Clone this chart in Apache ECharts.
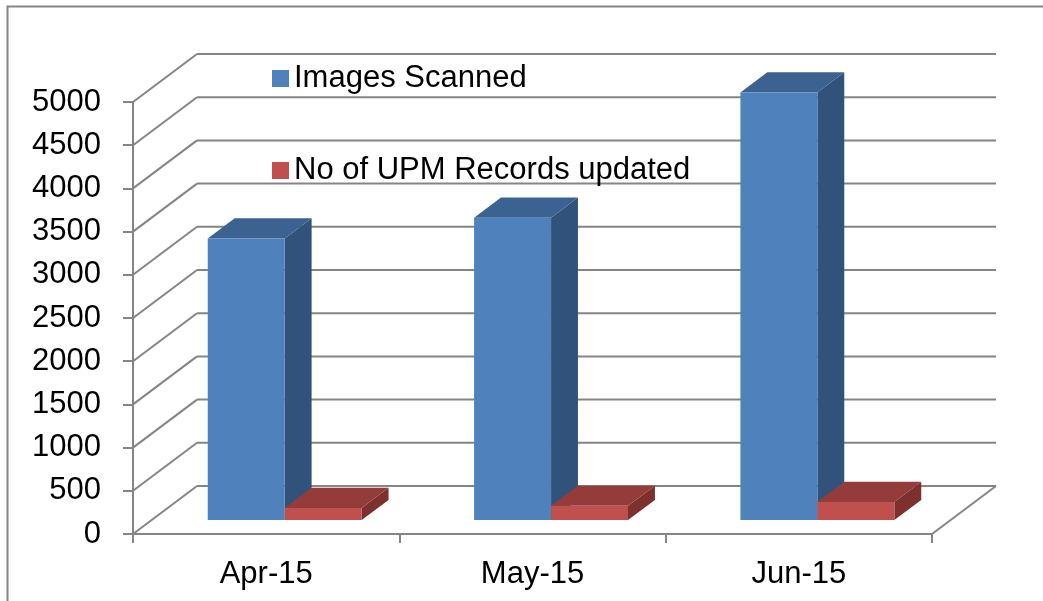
<!DOCTYPE html>
<html>
<head>
<meta charset="utf-8">
<script src="https://cdn.jsdelivr.net/npm/echarts@6/dist/echarts.min.js"></script>
<style>
html,body{margin:0;padding:0;background:#fff;}
#chart{width:1043px;height:601px;}
</style>
</head>
<body>
<div id="chart"></div>
<script>
const categories = ['Apr-15', 'May-15', 'Jun-15'];
const imagesScanned = [3260, 3500, 4950];
const upmRecords = [140, 165, 210];
const yTicks = [0, 500, 1000, 1500, 2000, 2500, 3000, 3500, 4000, 4500, 5000];
const seriesNames = ['Images Scanned', 'No of UPM Records updated'];

// 3D projection styling
const DX = 64, DY = -48;       // depth offset of the back wall
const F0 = 0.29, F1 = 0.71;    // bar depth range (fraction of full depth)
const BAR_FRAC = 0.289;        // bar width as fraction of category band
const GRID_COLOR = '#858585';
const FONT = 'Liberation Sans, Arial, sans-serif';

const chart = echarts.init(document.getElementById('chart'), null, {renderer: 'canvas'});

function wallRender(params, api) {
  const v = api.value(1);
  const y = api.coord([0, v])[1];
  const cs = params.coordSys;
  const x0 = cs.x, x1 = cs.x + cs.width;
  const st = {stroke: GRID_COLOR, lineWidth: 2, fill: null};
  const children = [
    {type: 'line', shape: {x1: x0, y1: y, x2: x0 + DX, y2: y + DY}, style: st},
    {type: 'line', shape: {x1: x0 + DX, y1: y + DY, x2: x1 + DX, y2: y + DY}, style: st}
  ];
  if (v === 0) {
    children.push({type: 'line', shape: {x1: x1, y1: y, x2: x1 + DX, y2: y + DY}, style: st});
  }
  return {type: 'group', children: children};
}

function barRender(side, cols) {
  return function (params, api) {
    const cat = api.value(0), v = api.value(1);
    const top = api.coord([cat, v]);
    const base = api.coord([cat, 0]);
    const band = api.size([1, 0])[0];
    const w = band * BAR_FRAC;
    const ox = F0 * DX, oy = F0 * DY;
    const dx = (F1 - F0) * DX, dy = (F1 - F0) * DY;
    const xl = top[0] + ox + (side < 0 ? -w : 0);
    const xr = xl + w;
    const yt = top[1] + oy;
    const yb = base[1] + oy;
    return {
      type: 'group',
      children: [
        {type: 'polygon', shape: {points: [[xr, yt], [xr + dx, yt + dy], [xr + dx, yb + dy], [xr, yb]]}, style: {fill: cols.side}},
        {type: 'polygon', shape: {points: [[xl, yt], [xr, yt], [xr + dx, yt + dy], [xl + dx, yt + dy]]}, style: {fill: cols.top}},
        {type: 'rect', shape: {x: xl, y: yt, width: w, height: yb - yt}, style: {fill: cols.front}}
      ]
    };
  };
}

const option = {
  backgroundColor: '#ffffff',
  animation: false,
  graphic: [{
    type: 'rect', left: 5, top: 4, z: 0,
    shape: {x: 0, y: 0, width: 1060, height: 620},
    style: {fill: null, stroke: GRID_COLOR, lineWidth: 2}
  }],
  legend: {
    data: seriesNames,
    orient: 'vertical',
    left: 267,
    top: 58,
    itemGap: 61,
    itemWidth: 17,
    itemHeight: 17,
    icon: 'rect',
    textStyle: {fontSize: 31, lineHeight: 31, color: '#000', fontFamily: FONT}
  },
  grid: {left: 133, right: 111, top: 102, bottom: 67, containLabel: false},
  xAxis: {
    type: 'category',
    data: categories,
    axisLine: {show: true, lineStyle: {color: GRID_COLOR, width: 2}},
    axisTick: {show: true, length: 9, lineStyle: {color: GRID_COLOR, width: 2}},
    axisLabel: {fontSize: 31, color: '#000', fontFamily: FONT, margin: 25},
    splitLine: {show: false}
  },
  yAxis: {
    type: 'value',
    min: 0, max: 5000, interval: 500,
    axisLine: {show: true, lineStyle: {color: GRID_COLOR, width: 2}},
    axisTick: {show: true, length: 10, lineStyle: {color: GRID_COLOR, width: 2}},
    axisLabel: {fontSize: 31, color: '#000', fontFamily: FONT, margin: 32, formatter: v => String(v)},
    splitLine: {show: false}
  },
  series: [
    {
      type: 'custom', name: '__wall', z: 1, silent: true,
      renderItem: wallRender,
      data: yTicks.map(v => [0, v])
    },
    {
      type: 'custom', name: seriesNames[0], z: 3,
      itemStyle: {color: '#4F81BD'},
      renderItem: barRender(-1, {front: '#4F81BD', top: '#3B6291', side: '#31527A'}),
      data: imagesScanned.map((v, i) => [i, v])
    },
    {
      type: 'custom', name: seriesNames[1], z: 4,
      itemStyle: {color: '#C0504D'},
      renderItem: barRender(1, {front: '#C0504D', top: '#943C3A', side: '#7D302E'}),
      data: upmRecords.map((v, i) => [i, v])
    }
  ]
};
chart.setOption(option);
</script>
</body>
</html>
